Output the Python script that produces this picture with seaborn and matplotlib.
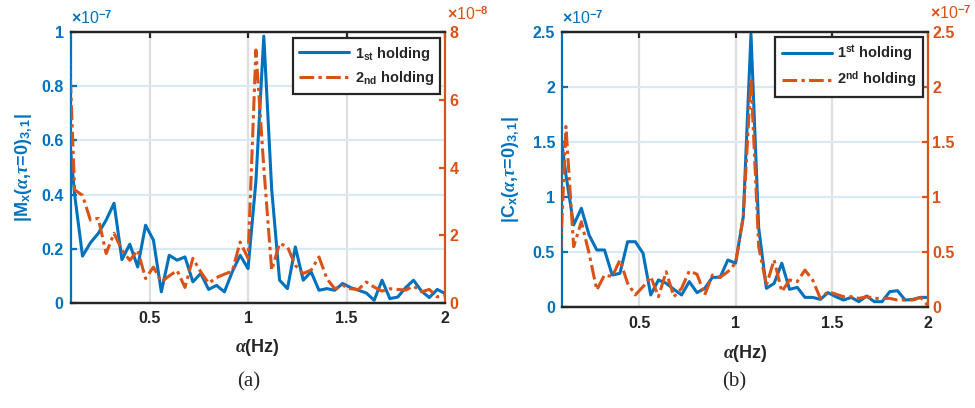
import matplotlib
matplotlib.use("Agg")
import matplotlib.pyplot as plt
import seaborn as sns

# cyclic frequency grid (Hz)
alpha = [0.08, 0.12, 0.16, 0.20, 0.24, 0.28, 0.32, 0.36, 0.40, 0.44,
         0.48, 0.52, 0.56, 0.60, 0.64, 0.68, 0.72, 0.76, 0.80, 0.84,
         0.88, 0.92, 0.96, 1.00, 1.04, 1.08, 1.12, 1.16, 1.20, 1.24,
         1.28, 1.32, 1.36, 1.40, 1.44, 1.48, 1.52, 1.56, 1.60, 1.64,
         1.68, 1.72, 1.76, 1.80, 1.84, 1.88, 1.92, 1.96, 2.00]

# (a) |M_x| , 1st holding in 1e-7, 2nd holding in 1e-8
m_first = [0.72, 0.40, 0.173, 0.222, 0.257, 0.306, 0.368, 0.16, 0.217, 0.133,
           0.287, 0.232, 0.041, 0.176, 0.158, 0.17, 0.078, 0.109, 0.05, 0.065,
           0.041, 0.115, 0.176, 0.127, 0.45, 0.985, 0.42, 0.084, 0.053, 0.207,
           0.084, 0.115, 0.047, 0.053, 0.047, 0.072, 0.057, 0.047, 0.037, 0.01,
           0.084, 0.016, 0.022, 0.057, 0.084, 0.044, 0.02, 0.05, 0.035]
m_second = [9.44, 3.34, 3.18, 2.45, 2.5, 1.46, 2.06, 1.56, 1.26, 1.56,
            0.72, 1.06, 0.62, 0.8, 0.96, 0.46, 1.32, 0.92, 0.58, 0.75,
            0.85, 0.94, 1.8, 1.32, 7.47, 4.0, 0.97, 1.76, 1.66, 1.11,
            0.87, 0.97, 1.36, 0.72, 0.42, 0.52, 0.42, 0.4, 0.62, 0.47,
            0.35, 0.42, 0.4, 0.38, 0.5, 0.33, 0.4, 0.18, 0.22]

# (b) |C_x| , both in 1e-7
c_first = [1.75, 1.2, 0.747, 0.898, 0.656, 0.52, 0.52, 0.293, 0.308, 0.595,
           0.595, 0.49, 0.112, 0.248, 0.218, 0.163, 0.112, 0.233, 0.133, 0.172,
           0.272, 0.272, 0.429, 0.40, 0.82, 2.48, 0.72, 0.172, 0.217, 0.40,
           0.163, 0.181, 0.09, 0.09, 0.072, 0.133, 0.096, 0.066, 0.09, 0.051,
           0.103, 0.051, 0.051, 0.142, 0.151, 0.066, 0.072, 0.09, 0.09]
c_second = [0.0, 1.64, 0.55, 0.777, 0.49, 0.157, 0.293, 0.278, 0.429, 0.218,
            0.112, 0.187, 0.278, 0.096, 0.323, 0.096, 0.172, 0.33, 0.30, 0.112,
            0.293, 0.272, 0.323, 0.40, 0.82, 2.077, 0.55, 0.20, 0.43, 0.142,
            0.248, 0.233, 0.338, 0.248, 0.081, 0.142, 0.12, 0.096, 0.096, 0.081,
            0.096, 0.081, 0.081, 0.081, 0.066, 0.066, 0.066, 0.09, 0.012]

xticks = [0.5, 1, 1.5, 2]
xtick_labels = ["0.5", "1", "1.5", "2"]

BLUE = "#0072BD"
ORANGE = "#D95319"
DARK = "#262626"

sns.set_style("white")
plt.rcParams["font.family"] = ["Liberation Sans", "DejaVu Sans"]
plt.rcParams["font.weight"] = "bold"
plt.rcParams["axes.labelweight"] = "bold"
plt.rcParams["mathtext.fontset"] = "custom"
plt.rcParams["mathtext.rm"] = "Liberation Sans"
plt.rcParams["mathtext.bf"] = "Liberation Sans:bold"
plt.rcParams["mathtext.it"] = "Liberation Serif:italic"

fig = plt.figure(figsize=(9.75, 4.08), dpi=100)


def panel(rect, y1, y2, lim1, lim2, ticks1, labels1, ticks2, labels2,
          ylabel, exp1, exp2, leg_labels, leg_anchor, ylab_x, xlab_y):
    ax = fig.add_axes(rect)
    ax2 = ax.twinx()
    sns.lineplot(x=alpha, y=y1, ax=ax, color=BLUE, linewidth=2.2, legend=False)
    sns.lineplot(x=alpha, y=y2, ax=ax2, color=ORANGE, linewidth=2.2,
                 linestyle=(0, (4.8, 1.4, 1.1, 1.4)), legend=False)

    ax.set_xlim(0.1, 2)
    ax.set_ylim(*lim1)
    ax2.set_ylim(*lim2)
    ax.set_xticks(xticks)
    ax.set_xticklabels(xtick_labels)
    ax.set_yticks(ticks1)
    ax.set_yticklabels(labels1)
    ax2.set_yticks(ticks2)
    ax2.set_yticklabels(labels2)

    ax.set_axisbelow(True)
    ax.grid(axis="x", color="#DEDEDE", linewidth=1.6)
    ax.grid(axis="y", color="#D9EAF5", linewidth=1.6)

    for a in (ax, ax2):
        a.spines["top"].set_color(DARK)
        a.spines["bottom"].set_color(DARK)
        for s in a.spines.values():
            s.set_linewidth(1.6)
    ax.spines["left"].set_color(BLUE)
    ax.spines["right"].set_visible(False)
    ax2.spines["left"].set_visible(False)
    ax2.spines["right"].set_color(ORANGE)

    ax.tick_params(axis="x", direction="in", top=True, length=4, width=1.6,
                   colors=DARK, labelsize=11.5, pad=6)
    ax.tick_params(axis="y", direction="in", length=4, width=1.6,
                   colors=BLUE, labelsize=11.5, pad=5)
    ax2.tick_params(axis="y", direction="in", length=4, width=1.6,
                    colors=ORANGE, labelsize=11.5, pad=3)

    ax.set_xlabel(r"$\alpha$(Hz)", fontsize=13, color=DARK, va="top")
    ax.xaxis.set_label_coords(0.5, xlab_y)
    ax.set_ylabel(ylabel, fontsize=13, color=BLUE)
    ax.yaxis.set_label_coords(ylab_x, 0.5)

    ax.text(0.0, 1.018, r"$\times$10$^{-" + exp1 + "}$", transform=ax.transAxes,
            ha="left", va="bottom", color=BLUE, fontsize=11.5, fontweight="normal")
    ax.text(1.004, 1.034, r"$\times$10$^{-" + exp2 + "}$", transform=ax.transAxes,
            ha="left", va="bottom", color=ORANGE, fontsize=11.5, fontweight="normal")

    leg = ax2.legend([ax.get_lines()[0], ax2.get_lines()[0]], leg_labels,
                     loc="upper right", bbox_to_anchor=leg_anchor, borderaxespad=0,
                     frameon=True, fancybox=False, framealpha=1, edgecolor=DARK,
                     prop={"weight": "bold", "size": 10.5}, handlelength=3.4,
                     handletextpad=0.4, borderpad=0.45, labelspacing=0.45)
    leg.get_frame().set_linewidth(1.6)
    return ax


panel([0.0725, 0.2574, 0.384, 0.664], m_first, m_second, (0, 1), (0, 8),
      [0, 0.2, 0.4, 0.6, 0.8, 1], ["0", "0.2", "0.4", "0.6", "0.8", "1"],
      [0, 2, 4, 6, 8], ["0", "2", "4", "6", "8"],
      r"|M$_{\mathbf{x}}$($\alpha$,$\tau$=0)$_{\mathbf{3,1}}$|", "7", "8",
      [r"1$_{\mathbf{st}}$ holding", r"2$_{\mathbf{nd}}$ holding"],
      (0.987, 0.978), -0.095, -0.125)

panel([0.5765, 0.2468, 0.3756, 0.6755], c_first, c_second, (0, 2.5), (0, 2.5),
      [0, 0.5, 1, 1.5, 2, 2.5], ["0", "0.5", "1", "1.5", "2", "2.5"],
      [0, 0.5, 1, 1.5, 2, 2.5], ["0", "0.5", "1", "1.5", "2", "2.5"],
      r"|C$_{\mathbf{x}}$($\alpha$,$\tau$=0)$_{\mathbf{3,1}}$|", "7", "7",
      [r"1$^{\mathbf{st}}$ holding", r"2$^{\mathbf{nd}}$ holding"],
      (0.9855, 0.981), -0.11, -0.13)

fig.text(249 / 975, 1 - 382 / 408, "(a)", ha="center", va="center",
         family="Liberation Serif", fontweight="normal", fontsize=15)
fig.text(734 / 975, 1 - 382 / 408, "(b)", ha="center", va="center",
         family="Liberation Serif", fontweight="normal", fontsize=15)

fig.savefig("out.png", dpi=100)
